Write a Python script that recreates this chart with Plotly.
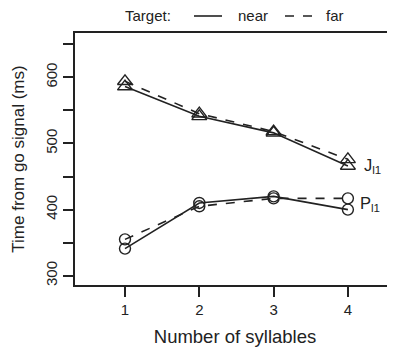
import plotly.graph_objects as go

syllables = [1, 2, 3, 4]
j_near = [586, 541, 516, 466]
j_far = [594, 545, 518, 476]
p_near = [341, 410, 420, 400]
p_far = [355, 405, 417, 417]

y_tickvals = [300, 350, 400, 450, 500, 550, 600, 650]
y_ticktext = ["300", "", "400", "", "500", "", "600", ""]
x_tickvals = [1, 2, 3, 4]
x_ticktext = ["1", "2", "3", "4"]

INK = "#222222"
FONT = "Liberation Sans, Arial, sans-serif"

fig = go.Figure()

def add(x, y, symbol, dash, size):
    fig.add_trace(go.Scatter(
        x=x, y=y, mode="lines+markers",
        line=dict(color=INK, width=1.6, dash=dash),
        marker=dict(symbol=symbol, size=size, color=INK,
                    line=dict(color=INK, width=1.4)),
        showlegend=False, cliponaxis=False))

add(syllables, j_far, "triangle-up-open", "dash", 13)
add(syllables, j_near, "triangle-up-open", "solid", 13)
add(syllables, p_far, "circle-open", "dash", 11)
add(syllables, p_near, "circle-open", "solid", 11)

lab_font = dict(size=16.5, color=INK, family=FONT)
fig.add_annotation(x=4.19, y=j_near[-1], text="J<sub>l1</sub>", showarrow=False,
                   xanchor="left", yanchor="middle", font=lab_font)
fig.add_annotation(x=4.14, y=(p_near[-1] + p_far[-1]) / 2, text="P<sub>l1</sub>", showarrow=False,
                   xanchor="left", yanchor="middle", font=lab_font)

# legend (manual); plot area is 320 px wide, 252 px tall
leg_font = dict(size=15, color=INK, family=FONT)
ly_txt = 1 + 18 / 252
fig.add_annotation(xref="paper", yref="paper", x=(123 - 75) / 320, y=ly_txt,
                   text="Target:", showarrow=False, xanchor="left", yanchor="middle", font=leg_font)
fig.add_annotation(xref="paper", yref="paper", x=(236 - 75) / 320, y=ly_txt,
                   text="near", showarrow=False, xanchor="left", yanchor="middle", font=leg_font)
fig.add_annotation(xref="paper", yref="paper", x=(324 - 75) / 320, y=ly_txt,
                   text="far", showarrow=False, xanchor="left", yanchor="middle", font=leg_font)
ly = 1 + 17 / 252
fig.add_shape(type="line", xref="paper", yref="paper", x0=(194 - 75) / 320, x1=(222 - 75) / 320,
              y0=ly, y1=ly, line=dict(color=INK, width=1.6))
fig.add_shape(type="line", xref="paper", yref="paper", x0=(285 - 75) / 320, x1=(313 - 75) / 320,
              y0=ly, y1=ly, line=dict(color=INK, width=1.6, dash="dash"))

fig.update_layout(
    width=387, height=339,
    margin=dict(l=67, r=0, t=25, b=62),
    plot_bgcolor="white", paper_bgcolor="white",
    font=dict(family=FONT, color=INK, size=14),
    xaxis=dict(range=[0.327, 4.634], tickvals=x_tickvals, ticktext=x_ticktext,
               showgrid=False, zeroline=False, showline=True, linecolor=INK, linewidth=1.5,
               mirror=True, ticks="outside", ticklen=10, tickwidth=1.5, tickcolor=INK,
               tickfont=dict(size=15), automargin=False,
               title=dict(text="Number of syllables", font=dict(size=18.5), standoff=13)),
    yaxis=dict(range=[286, 667], tickvals=y_tickvals, ticktext=y_ticktext, tickangle=-90,
               showgrid=False, zeroline=False, showline=True, linecolor=INK, linewidth=1.5,
               ticks="outside", ticklen=10, tickwidth=1.5, tickcolor=INK,
               tickfont=dict(size=15), automargin=False,
               title=dict(text="Time from go signal (ms)", font=dict(size=17), standoff=14)),
)

fig.write_html("out.html")
